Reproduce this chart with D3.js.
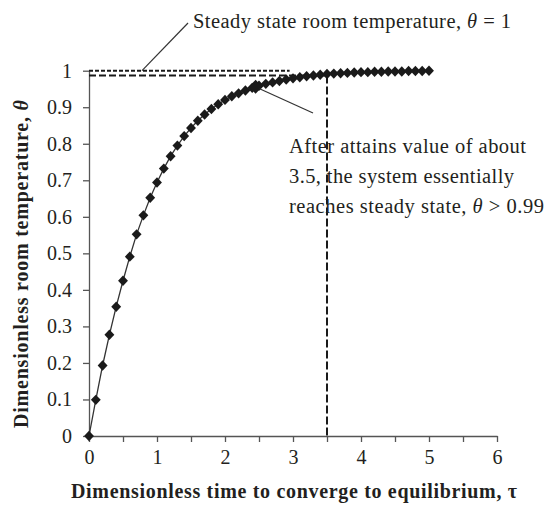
<!DOCTYPE html>
<html>
<head>
<meta charset="utf-8">
<script src="https://cdn.jsdelivr.net/npm/d3@7"></script>
<style>
  html, body { margin: 0; padding: 0; background: #fff; }
  svg { display: block; }
  text { font-family: "Liberation Serif", "Times New Roman", serif; fill: #231f20; }
</style>
</head>
<body>
<svg id="chart" width="547" height="507"></svg>
<script>
// Dimensionless time (tau) and room temperature (theta)
const tau = [0.0, 0.1, 0.2, 0.3, 0.4, 0.5, 0.6, 0.7, 0.8, 0.9,
             1.0, 1.1, 1.2, 1.3, 1.4, 1.5, 1.6, 1.7, 1.8, 1.9,
             2.0, 2.1, 2.2, 2.3, 2.4, 2.5, 2.6, 2.7, 2.8, 2.9,
             3.0, 3.1, 3.2, 3.3, 3.4, 3.5, 3.6, 3.7, 3.8, 3.9,
             4.0, 4.1, 4.2, 4.3, 4.4, 4.5, 4.6, 4.7, 4.8, 4.9, 5.0];
const theta = [0.000, 0.099, 0.193, 0.277, 0.354, 0.425, 0.491, 0.552, 0.604, 0.652,
               0.694, 0.732, 0.766, 0.795, 0.821, 0.843, 0.863, 0.880, 0.895, 0.908,
               0.920, 0.930, 0.938, 0.946, 0.953, 0.959, 0.964, 0.968, 0.972, 0.976,
               0.979, 0.982, 0.985, 0.987, 0.989, 0.991, 0.992, 0.993, 0.994, 0.995,
               0.996, 0.996, 0.997, 0.997, 0.998, 0.998, 0.998, 0.999, 0.999, 0.999, 1.000];

// Marked point where the annotation arrow touches the curve
const highlightTau = [2.45];
const highlightTheta = [0.956];

// Axis ticks
const xTicks = [0, 1, 2, 3, 4, 5, 6];
const xMinorTicks = [0.5, 1.5, 2.5, 3.5, 4.5, 5.5];
const yTicks = [0, 0.1, 0.2, 0.3, 0.4, 0.5, 0.6, 0.7, 0.8, 0.9, 1];
const yTickLabels = ["0", "0.1", "0.2", "0.3", "0.4", "0.5", "0.6", "0.7", "0.8", "0.9", "1"];

// Reference levels
const steadyTheta = 1.0;
const steadyLineEndTau = 2.95;
const thresholdTheta = 0.987;
const thresholdTau = 3.5;

// Text
const xTitle = "Dimensionless time to converge to equilibrium, \u03C4";
const yTitle = "Dimensionless room temperature, ";
const note1 = "Steady state room temperature, ";
const note2 = ["After attains value of about", "3.5, the system essentially", "reaches steady state, "];
const note2Widths = [237, 225, 255];

const svg = d3.select("#chart");
const x = d3.scaleLinear().domain([0, 6]).range([89, 497]);
const y = d3.scaleLinear().domain([0, 1]).range([436, 70.7]);

const axisColor = "#555";
const noteSize = 20.5;
const titleSize = 20;

// X axis
const gx = svg.append("g").attr("transform", `translate(0,${y(0)})`)
  .call(d3.axisBottom(x).tickValues(xTicks).tickFormat(d3.format("d")).tickSizeInner(6).tickSizeOuter(0).tickPadding(8));
svg.append("g").attr("transform", `translate(0,${y(0)})`)
  .call(d3.axisBottom(x).tickValues(xMinorTicks).tickFormat("").tickSizeInner(6).tickSizeOuter(0))
  .select(".domain").remove();

// Y axis
const gy = svg.append("g").attr("transform", `translate(${x(0)},0)`)
  .call(d3.axisLeft(y).tickValues(yTicks).tickFormat((d, i) => yTickLabels[i]).tickSizeInner(6).tickSizeOuter(0).tickPadding(11));

svg.selectAll(".domain").attr("stroke", axisColor).attr("stroke-width", 1.3);
svg.selectAll(".tick line").attr("stroke", axisColor).attr("stroke-width", 1.3);
svg.selectAll(".tick text")
  .attr("font-family", "'Liberation Serif', 'Times New Roman', serif")
  .attr("font-size", 20)
  .attr("fill", "#231f20");
gx.selectAll(".tick text").attr("dy", "0.68em");

// Dashed reference lines
const dashColor = "#1a1a1a";
svg.append("line")
  .attr("x1", x(0)).attr("x2", x(steadyLineEndTau))
  .attr("y1", y(steadyTheta)).attr("y2", y(steadyTheta))
  .attr("stroke", dashColor).attr("stroke-width", 2).attr("stroke-dasharray", "4,2");
svg.append("line")
  .attr("x1", x(0)).attr("x2", x(thresholdTau))
  .attr("y1", y(thresholdTheta)).attr("y2", y(thresholdTheta))
  .attr("stroke", dashColor).attr("stroke-width", 2).attr("stroke-dasharray", "7,3");
svg.append("line")
  .attr("x1", x(thresholdTau)).attr("x2", x(thresholdTau))
  .attr("y1", y(thresholdTheta)).attr("y2", y(0))
  .attr("stroke", dashColor).attr("stroke-width", 2).attr("stroke-dasharray", "8,3");

// Series line and markers
const pts = tau.map((t, i) => ({ t, v: theta[i] }));
svg.append("path")
  .datum(pts)
  .attr("fill", "none")
  .attr("stroke", "#333")
  .attr("stroke-width", 1.3)
  .attr("d", d3.line().x(d => x(d.t)).y(d => y(d.v)));

const diamond = r => `M0,${-r}L${r * 0.95},0L0,${r}L${-r * 0.95},0Z`;
svg.append("g").selectAll("path")
  .data(pts)
  .join("path")
  .attr("transform", d => `translate(${x(d.t)},${y(d.v)})`)
  .attr("d", diamond(5.2))
  .attr("fill", "#1a1a1a");

svg.append("g").selectAll("path")
  .data(highlightTau.map((t, i) => ({ t, v: highlightTheta[i] })))
  .join("path")
  .attr("transform", d => `translate(${x(d.t)},${y(d.v)})`)
  .attr("d", diamond(7))
  .attr("fill", "#1a1a1a");

// Annotation: steady state
svg.append("line")
  .attr("x1", 188).attr("y1", 23).attr("x2", 142).attr("y2", y(steadyTheta))
  .attr("stroke", "#333").attr("stroke-width", 1.2);
const t1 = svg.append("text").attr("x", 193).attr("y", 27.5).attr("font-size", noteSize)
  .attr("textLength", 318).attr("lengthAdjust", "spacing");
t1.append("tspan").text(note1);
t1.append("tspan").attr("font-style", "italic").text("\u03B8");
t1.append("tspan").text(" = 1");

// Annotation: threshold
svg.append("line")
  .attr("x1", x(highlightTau[0]) + 4).attr("y1", y(highlightTheta[0]) + 2)
  .attr("x2", 313).attr("y2", 113)
  .attr("stroke", "#333").attr("stroke-width", 1.2);
note2.forEach((s, i) => {
  const t = svg.append("text").attr("x", 289).attr("y", 153 + i * 30).attr("font-size", noteSize)
    .attr("textLength", note2Widths[i]).attr("lengthAdjust", "spacing");
  t.append("tspan").text(s);
  if (i === 2) {
    t.append("tspan").attr("font-style", "italic").text("\u03B8");
    t.append("tspan").text(" > 0.99");
  }
});

// Axis titles
svg.append("text")
  .attr("x", 71).attr("y", 498)
  .attr("font-size", titleSize).attr("font-weight", "bold")
  .attr("textLength", 446).attr("lengthAdjust", "spacing")
  .text(xTitle);

const yt = svg.append("text")
  .attr("transform", "translate(28,428) rotate(-90)")
  .attr("font-size", titleSize).attr("font-weight", "bold")
  .attr("textLength", 328).attr("lengthAdjust", "spacing");
yt.append("tspan").text(yTitle);
yt.append("tspan").attr("font-style", "italic").text("\u03B8");
</script>
</body>
</html>
